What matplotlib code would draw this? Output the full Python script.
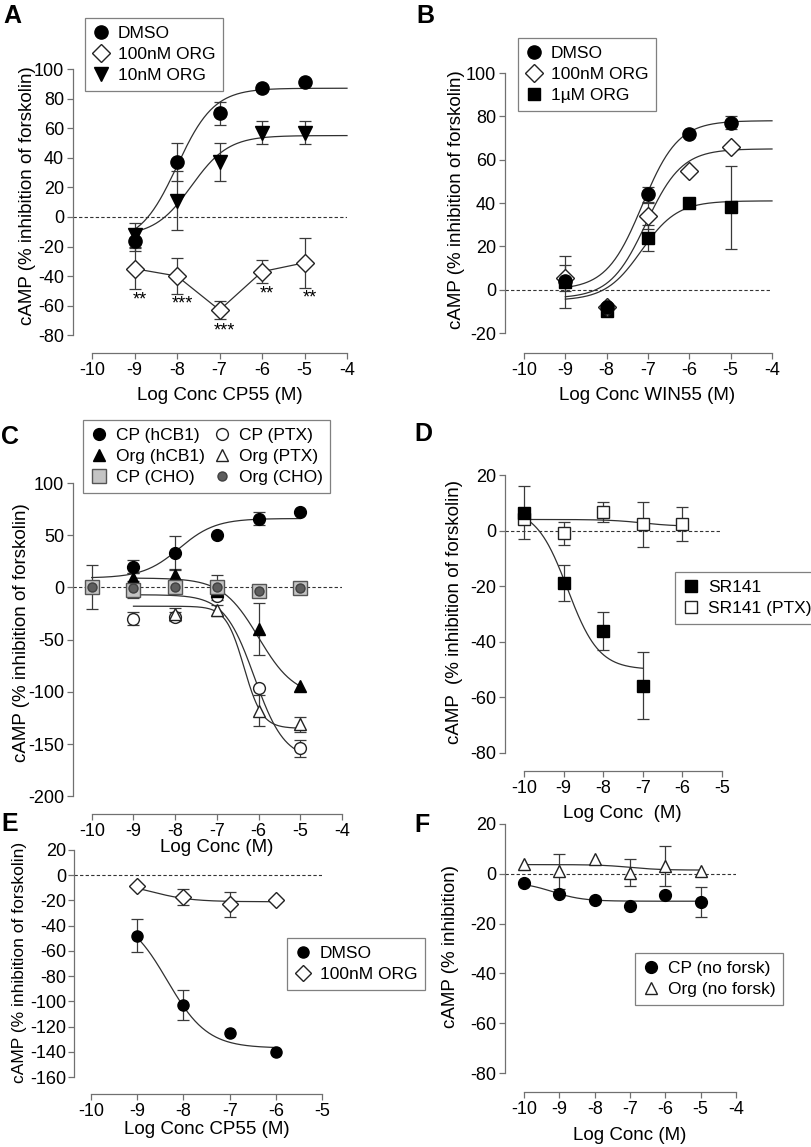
import numpy as np
import matplotlib
matplotlib.use("Agg")
import matplotlib.pyplot as plt
from matplotlib.lines import Line2D

plt.rcParams['font.family'] = ['Liberation Sans', 'DejaVu Sans']

W, H = 812, 1147
fig = plt.figure(figsize=(W / 100, H / 100), dpi=100)

# ---------------- data ----------------
# fit params: [y at low conc, y at high conc, logEC50, hill slope]

# A  CP55 +/- ORG
a_x = [-9, -8, -7, -6, -5]
a_dmso = [-16, 37, 70, 87, 91]
a_dmso_err = [7, 13, 8, 0, 0]
a_org100 = [-35, -40, -63, -37, -31]
a_org100_err = [14, 12, 6, 8, 17]
a_org10 = [-12, 11, 37, 57, 57]
a_org10_err = [8, 20, 13, 8, 8]
a_stars = ['**', '***', '***', '**', '**']
a_star_y = [-56, -59, -77, -52, -55]
a_dmso_fit = [-18, 87, -8.0, 1.0]
a_org10_fit = [-13, 55, -7.66, 1.0]

# B  WIN55 +/- ORG
b_x = [-9, -8, -7, -6, -5]
b_dmso = [4, -8, 44, 72, 77]
b_dmso_err = [0, 0, 3.5, 0, 3]
b_org100 = [5.5, -8, 34, 55, 66]
b_org100_err = [6, 0, 6, 0, 0]
b_org1u = [3.5, -10, 24, 40, 38]
b_org1u_err = [12, 0, 6, 0, 19]
b_dmso_fit = [0, 78, -7.14, 1.0]
b_org100_fit = [-4, 65, -7.05, 1.0]
b_org1u_fit = [-5, 41, -7.16, 1.0]

# C  hCB1 / PTX / CHO
c_cp_x = [-9, -8, -7, -6, -5]
c_cp = [20, 33, 50, 66, 72]
c_cp_err = [6, 16, 0, 6, 0]
c_org_x = [-9, -8, -7, -6, -5]
c_org = [9, 12, -3, -40, -94]
c_org_err = [5, 6, 0, 25, 0]
c_cpptx_x = [-9, -8, -7, -6, -5]
c_cpptx = [-30, -28, -8, -96, -154]
c_cpptx_err = [6, 4, 0, 0, 8]
c_orgptx_x = [-8, -7, -6, -5]
c_orgptx = [-25, -22, -118, -131]
c_orgptx_err = [5, 5, 15, 7]
c_cho_x = [-10, -9, -8, -7, -6, -5]
c_cpcho = [0, -2, 0, 0, -3, -1]
c_cpcho_err = [21, 8, 0, 12, 0, 0]
c_orgcho = [0, -1, 0, 0, -3, -1]
c_cp_fit = [9, 66, -7.9, 1.0]
c_org_fit = [9, -105, -6.0, 1.0]
c_cpptx_fit = [-7, -165, -6.1, 1.2]
c_orgptx_fit = [-18, -135, -6.35, 2.0]

# D  SR141
d_sr_x = [-10, -9, -8, -7]
d_sr = [6.4, -18.8, -36.2, -55.8]
d_sr_err = [9.5, 6.5, 6.8, 12]
d_ptx_x = [-10, -9, -8, -7, -6]
d_ptx = [4.2, -1, 6.7, 2.2, 2.4]
d_ptx_err = [0, 4.2, 3.6, 8, 6.2]
d_sr_fit = [8, -50, -8.9, 1.1]
d_ptx_fit = [4, 1.5, -7.0, 1.0]

# E  CP55 +/- ORG
e_x = [-9, -8, -7, -6]
e_dmso = [-48, -103, -125, -140]
e_dmso_err = [13, 12, 0, 0]
e_org = [-8.7, -17, -23, -20]
e_org_err = [0, 6.4, 10, 0]
e_dmso_fit = [-30, -137, -8.35, 1.0]
e_org_fit = [-5, -21, -8.7, 1.0]

# F  no forskolin
f_x = [-10, -9, -8, -7, -6, -5]
f_cp = [-3.7, -8.2, -10.7, -12.9, -8.4, -11.4]
f_cp_err = [0, 0, 0, 0, 0, 6]
f_org = [4, 1, 5.9, 0.5, 3.2, 1.2]
f_org_err = [0, 7, 0, 5.3, 8, 0]
f_cp_fit = [-3.3, -11, -9.2, 1.0]
f_org_fit = [3.7, 1.5, -7.0, 1.0]

# ---------------- styles ----------------
K = '#222222'
filled_o = dict(marker='o', mfc='black', mec='black')
open_o = dict(marker='o', mfc='white', mec=K)
open_D = dict(marker='D', mfc='white', mec=K)
filled_v = dict(marker='v', mfc='black', mec='black')
filled_s = dict(marker='s', mfc='black', mec='black')
open_s = dict(marker='s', mfc='white', mec=K)
filled_t = dict(marker='^', mfc='black', mec='black')
open_t = dict(marker='^', mfc='white', mec=K)
grey_s = dict(marker='s', mfc='#c4c4c4', mec='#555555')
grey_o = dict(marker='o', mfc='#5e5e5e', mec='#404040')

TICK_FS = 13
LAB_FS = 13.5
LEG_FS = 12.5


def hill(x, p):
    lo, hi, ec, h = p
    return lo + (hi - lo) / (1 + 10 ** ((ec - x) * h))


def make_ax(l, r, t, b, xlim, ylim, xticks, yticks, pad=2.5):
    ax = fig.add_axes([l / W, 1 - b / H, (r - l) / W, (b - t) / H])
    ax.set_xlim(*xlim)
    ax.set_ylim(*ylim)
    for s in ('top', 'right'):
        ax.spines[s].set_visible(False)
    for s in ('left', 'bottom'):
        ax.spines[s].set_color('#707070')
        ax.spines[s].set_linewidth(0.9)
    ax.spines['left'].set_bounds(yticks[0], yticks[-1])
    ax.spines['bottom'].set_bounds(xticks[0], xticks[-1])
    ax.set_xticks(xticks)
    ax.set_yticks(yticks)
    ax.set_xticklabels([str(v) for v in xticks])
    ax.set_yticklabels([str(v) for v in yticks])
    ax.tick_params(direction='out', length=4, width=0.9, color='#707070',
                   labelsize=TICK_FS, pad=2.5)
    ax.tick_params(axis='y', pad=pad)
    ax.axhline(0, color='#333333', lw=0.8, ls=(0, (3, 2)), zorder=1)
    ax.patch.set_alpha(0)
    return ax


def series(ax, x, y, err, st, ms, connect=False):
    x = np.asarray(x, float)
    y = np.asarray(y, float)
    if err is not None:
        e = np.asarray(err, float)
        m = e > 0
        ax.errorbar(x[m], y[m], yerr=e[m], fmt='none', ecolor='#3a3a3a',
                    elinewidth=0.9, capsize=4.5, capthick=0.9, zorder=2,
                    clip_on=False)
    ax.plot(x, y, ls='-' if connect else 'none', color='#303030', lw=0.9,
            ms=ms, mew=1.0, zorder=3, clip_on=False, **st)


def curve(ax, p, x0, x1):
    xs = np.linspace(x0, x1, 200)
    ax.plot(xs, hill(xs, p), color='#303030', lw=0.9, zorder=2.5,
            clip_on=False)


def legend(ax, items, x0, y0, ncol=1, fs=LEG_FS):
    hs = [Line2D([], [], ls='none', ms=ms, mew=1.0, **st) for st, ms, _ in items]
    labs = [lab for _, _, lab in items]
    leg = ax.legend(hs, labs, loc='upper left', bbox_to_anchor=(x0 / W, 1 - y0 / H),
                    bbox_transform=fig.transFigure, borderaxespad=0, ncol=ncol,
                    frameon=True, fancybox=False, fontsize=fs, handlelength=1.0,
                    handletextpad=0.45, labelspacing=0.35, borderpad=0.45,
                    columnspacing=0.5)
    leg.get_frame().set_edgecolor('#606060')
    leg.get_frame().set_linewidth(0.9)


def ftext(px, py, s, **kw):
    fig.text(px / W, 1 - py / H, s, **kw)


ylab = 'cAMP (% inhibition of forskolin)'

# ---------------- A ----------------
ax = make_ax(73, 347, 69, 353, (-10.45, -4), (-92, 100),
             list(range(-10, -3)), list(range(-80, 101, 20)))
curve(ax, a_dmso_fit, -9, -4)
curve(ax, a_org10_fit, -9, -4)
series(ax, a_x, a_dmso, a_dmso_err, filled_o, 9.5)
series(ax, a_x, a_org10, a_org10_err, filled_v, 10)
series(ax, a_x, a_org100, a_org100_err, open_D, 9.5, connect=True)
for xv, yv, s in zip(a_x, a_star_y, a_stars):
    ax.text(xv + 0.12, yv, s, ha='center', va='center', fontsize=13)
legend(ax, [(filled_o, 9.5, 'DMSO'), (open_D, 9.5, '100nM ORG'),
            (filled_v, 10, '10nM ORG')], 85, 18)
ftext(28, 196, ylab, rotation=90, ha='center', va='center', fontsize=LAB_FS)
ftext(220, 395, 'Log Conc CP55 (M)', ha='center', va='center', fontsize=LAB_FS)

# ---------------- B ----------------
ax = make_ax(505, 772, 73, 353, (-10.46, -4), (-29.2, 100),
             list(range(-10, -3)), list(range(-20, 101, 20)))
curve(ax, b_dmso_fit, -9, -4)
curve(ax, b_org100_fit, -9, -4)
curve(ax, b_org1u_fit, -9, -4)
series(ax, b_x, b_org1u, b_org1u_err, filled_s, 9)
series(ax, b_x, b_org100, b_org100_err, open_D, 9.5)
series(ax, b_x, b_dmso, b_dmso_err, filled_o, 9.5)
legend(ax, [(filled_o, 9.5, 'DMSO'), (open_D, 9.5, '100nM ORG'),
            (filled_s, 9, '1\u00b5M ORG')], 518, 38)
ftext(457, 200, ylab, rotation=90, ha='center', va='center', fontsize=LAB_FS)
ftext(647, 395, 'Log Conc WIN55 (M)', ha='center', va='center', fontsize=LAB_FS)

# ---------------- C ----------------
ax = make_ax(73, 342, 483, 814, (-10.45, -4), (-217, 100),
             list(range(-10, -3)), list(range(-200, 101, 50)))
curve(ax, c_cp_fit, -10, -5)
curve(ax, c_org_fit, -9, -5)
curve(ax, c_cpptx_fit, -9, -5)
curve(ax, c_orgptx_fit, -9, -5)
series(ax, c_cpptx_x, c_cpptx, c_cpptx_err, open_o, 8.5)
series(ax, c_orgptx_x, c_orgptx, c_orgptx_err, open_t, 9)
series(ax, c_org_x, c_org, c_org_err, filled_t, 9)
series(ax, c_cp_x, c_cp, c_cp_err, filled_o, 8.5)
series(ax, c_cho_x, c_cpcho, c_cpcho_err, grey_s, 9.5)
series(ax, c_cho_x, c_orgcho, None, grey_o, 6.5)
legend(ax, [(filled_o, 8.5, 'CP (hCB1)'), (filled_t, 9, 'Org (hCB1)'),
            (grey_s, 9.5, 'CP (CHO)'), (open_o, 8.5, 'CP (PTX)'),
            (open_t, 9, 'Org (PTX)'), (grey_o, 6.5, 'Org (CHO)')],
       83, 420, ncol=2)
ftext(22, 633, ylab, rotation=90, ha='center', va='center', fontsize=LAB_FS)
ftext(217, 847, 'Log Conc (M)', ha='center', va='center', fontsize=LAB_FS)

# ---------------- D ----------------
ax = make_ax(505, 722, 475, 771, (-10.48, -5), (-86.5, 20),
             list(range(-10, -4)), list(range(-80, 21, 20)))
curve(ax, d_sr_fit, -10, -7)
curve(ax, d_ptx_fit, -10, -6)
series(ax, d_ptx_x, d_ptx, d_ptx_err, open_s, 9)
series(ax, d_sr_x, d_sr, d_sr_err, filled_s, 9)
legend(ax, [(filled_s, 9, 'SR141'), (open_s, 9, 'SR141 (PTX)')], 675, 572)
ftext(455, 612, 'cAMP  (% inhibition of forskolin)', rotation=90,
      ha='center', va='center', fontsize=LAB_FS)
ftext(622, 814, 'Log Conc  (M)', ha='center', va='center', fontsize=LAB_FS)

# ---------------- E ----------------
ax = make_ax(74, 322, 850, 1094, (-10.37, -5), (-173.4, 20),
             list(range(-10, -4)), list(range(-160, 21, 20)), pad=1.5)
curve(ax, e_dmso_fit, -9, -6)
curve(ax, e_org_fit, -9, -6)
series(ax, e_x, e_dmso, e_dmso_err, filled_o, 8)
series(ax, e_x, e_org, e_org_err, open_D, 8.5)
legend(ax, [(filled_o, 8, 'DMSO'), (open_D, 8.5, '100nM ORG')], 287, 938)
ftext(20, 962, ylab, rotation=90, ha='center', va='center', fontsize=12.5)
ftext(207, 1129, 'Log Conc CP55 (M)', ha='center', va='center', fontsize=LAB_FS)

# ---------------- F ----------------
ax = make_ax(505, 736, 824, 1092, (-10.54, -4), (-87.6, 20),
             list(range(-10, -3)), list(range(-80, 21, 20)))
curve(ax, f_cp_fit, -10, -5)
curve(ax, f_org_fit, -10, -5)
series(ax, f_x, f_org, f_org_err, open_t, 9)
series(ax, f_x, f_cp, f_cp_err, filled_o, 8.5)
legend(ax, [(filled_o, 8.5, 'CP (no forsk)'), (open_t, 9, 'Org (no forsk)')],
       635, 953)
ftext(451, 947, 'cAMP (% inhibition)', rotation=90, ha='center', va='center',
      fontsize=LAB_FS)
ftext(630, 1136, 'Log Conc (M)', ha='center', va='center', fontsize=LAB_FS)

# panel letters
for lab, px, py in [('A', 3, 23), ('B', 416, 23), ('C', 1, 444),
                    ('D', 414, 441), ('E', 1, 831), ('F', 414, 832)]:
    ftext(px, py, lab, fontsize=18, fontweight='bold', ha='left', va='baseline')

fig.savefig('out.png', dpi=100)
